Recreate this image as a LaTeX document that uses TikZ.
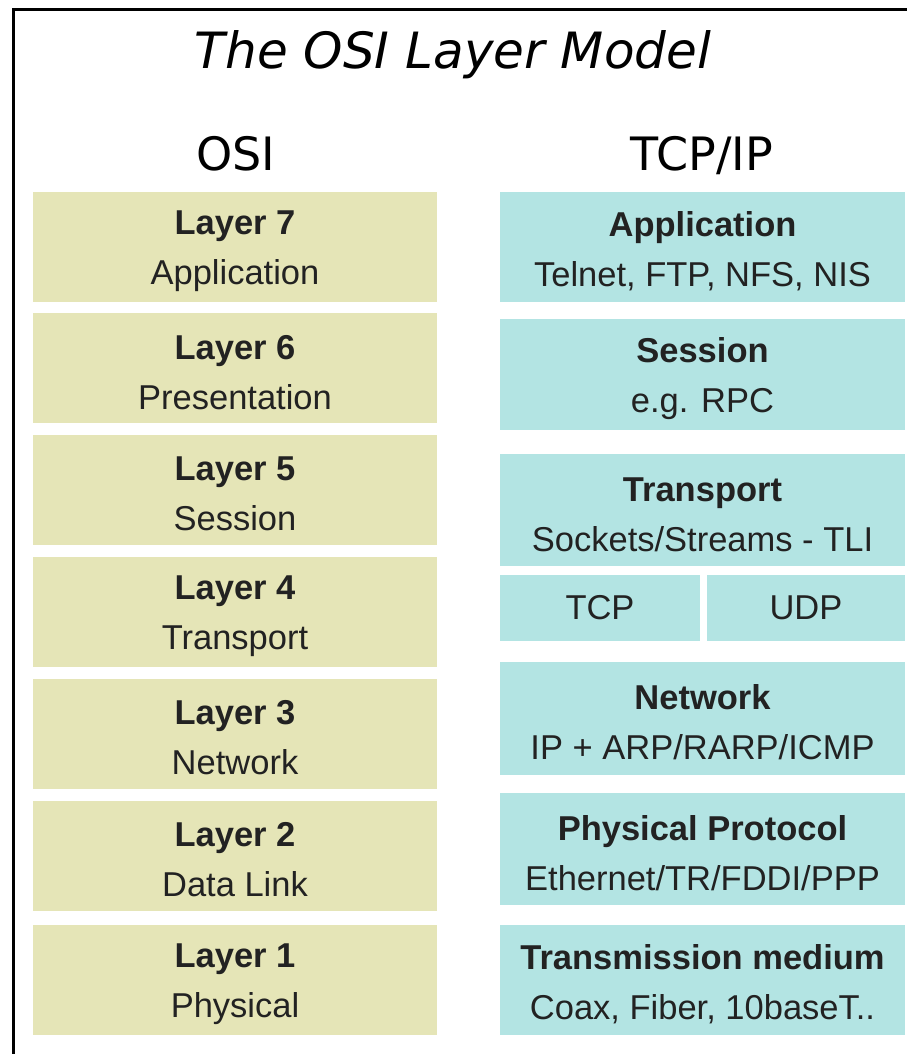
\documentclass[tikz,border=0pt]{standalone}
\usepackage{fontspec}
\setmainfont{Liberation Sans}
\newfontfamily\dejavu{DejaVu Sans}
\definecolor{osifill}{RGB}{229,229,183}
\definecolor{tcpfill}{RGB}{179,228,227}
\definecolor{boxtext}{RGB}{34,34,34}
\newcommand\mytwolines[2]{\rule{0pt}{33pt}\textbf{#1}\\#2}
\tikzset{
  layerbox/.style={inner sep=0pt, align=center, text=boxtext,
    font=\fontsize{34.5}{50}\selectfont},
  osibox/.style={layerbox, fill=osifill, minimum width=404pt, minimum height=110pt},
  tcpbox/.style={layerbox, fill=tcpfill, minimum width=405pt},
  header/.style={font=\dejavu\fontsize{46}{46}\selectfont, inner sep=0pt, anchor=base},
  frameline/.style={line width=3.5pt, draw=black}
}
\begin{document}
\begin{tikzpicture}[x=1pt,y=-1pt]
\useasboundingbox (0,0) rectangle (906,1054);
\fill[white] (0,0) rectangle (906,1054);
\draw[frameline] (13.5,1060) -- (13.5,9.5) -- (912,9.5);

\node[font=\dejavu\itshape\fontsize{50}{50}\selectfont, inner sep=0pt, anchor=base] (title) at (453,69) {The OSI Layer Model};
\node[header] (osihead) at (236,170) {OSI};
\node[header] (tcphead) at (702,170) {TCP/IP};

% OSI column
\node[osibox] (l7) at (235,247)   {\mytwolines{Layer 7}{Application}};
\node[osibox] (l6) at (235,368)   {\mytwolines{Layer 6}{Presentation}};
\node[osibox] (l5) at (235,489.5) {\mytwolines{Layer 5}{Session}};
\node[osibox] (l4) at (235,611.5) {\mytwolines{Layer 4}{Transport}};
\node[osibox] (l3) at (235,733.5) {\mytwolines{Layer 3}{Network}};
\node[osibox] (l2) at (235,855.5) {\mytwolines{Layer 2}{Data Link}};
\node[osibox] (l1) at (235,980)   {\mytwolines{Layer 1}{Physical}};

% TCP/IP column
\node[tcpbox, minimum height=110pt] (app) at (702.5,247)   {\mytwolines{Application}{Telnet, FTP, NFS, NIS}};
\node[tcpbox, minimum height=111pt] (ses) at (702.5,374.5) {\mytwolines{Session}{e.g. RPC}};
\node[tcpbox, minimum height=112pt] (trn) at (702.5,510)   {\mytwolines{Transport}{Sockets/Streams - TLI}};
\node[layerbox, fill=tcpfill, minimum width=200pt, minimum height=66pt] (tcp) at (600,608) {TCP};
\node[layerbox, fill=tcpfill, minimum width=198pt, minimum height=66pt] (udp) at (806,608) {UDP};
\node[tcpbox, minimum height=113pt] (net) at (702.5,718.5) {\mytwolines{Network}{IP + ARP/RARP/ICMP}};
\node[tcpbox, minimum height=112pt] (phy) at (702.5,849)   {\mytwolines{Physical Protocol}{Ethernet/TR/FDDI/PPP}};
\node[tcpbox, minimum height=110pt] (med) at (702.5,980)   {\mytwolines{Transmission medium}{Coax, Fiber, 10baseT..}};
\end{tikzpicture}
\end{document}
